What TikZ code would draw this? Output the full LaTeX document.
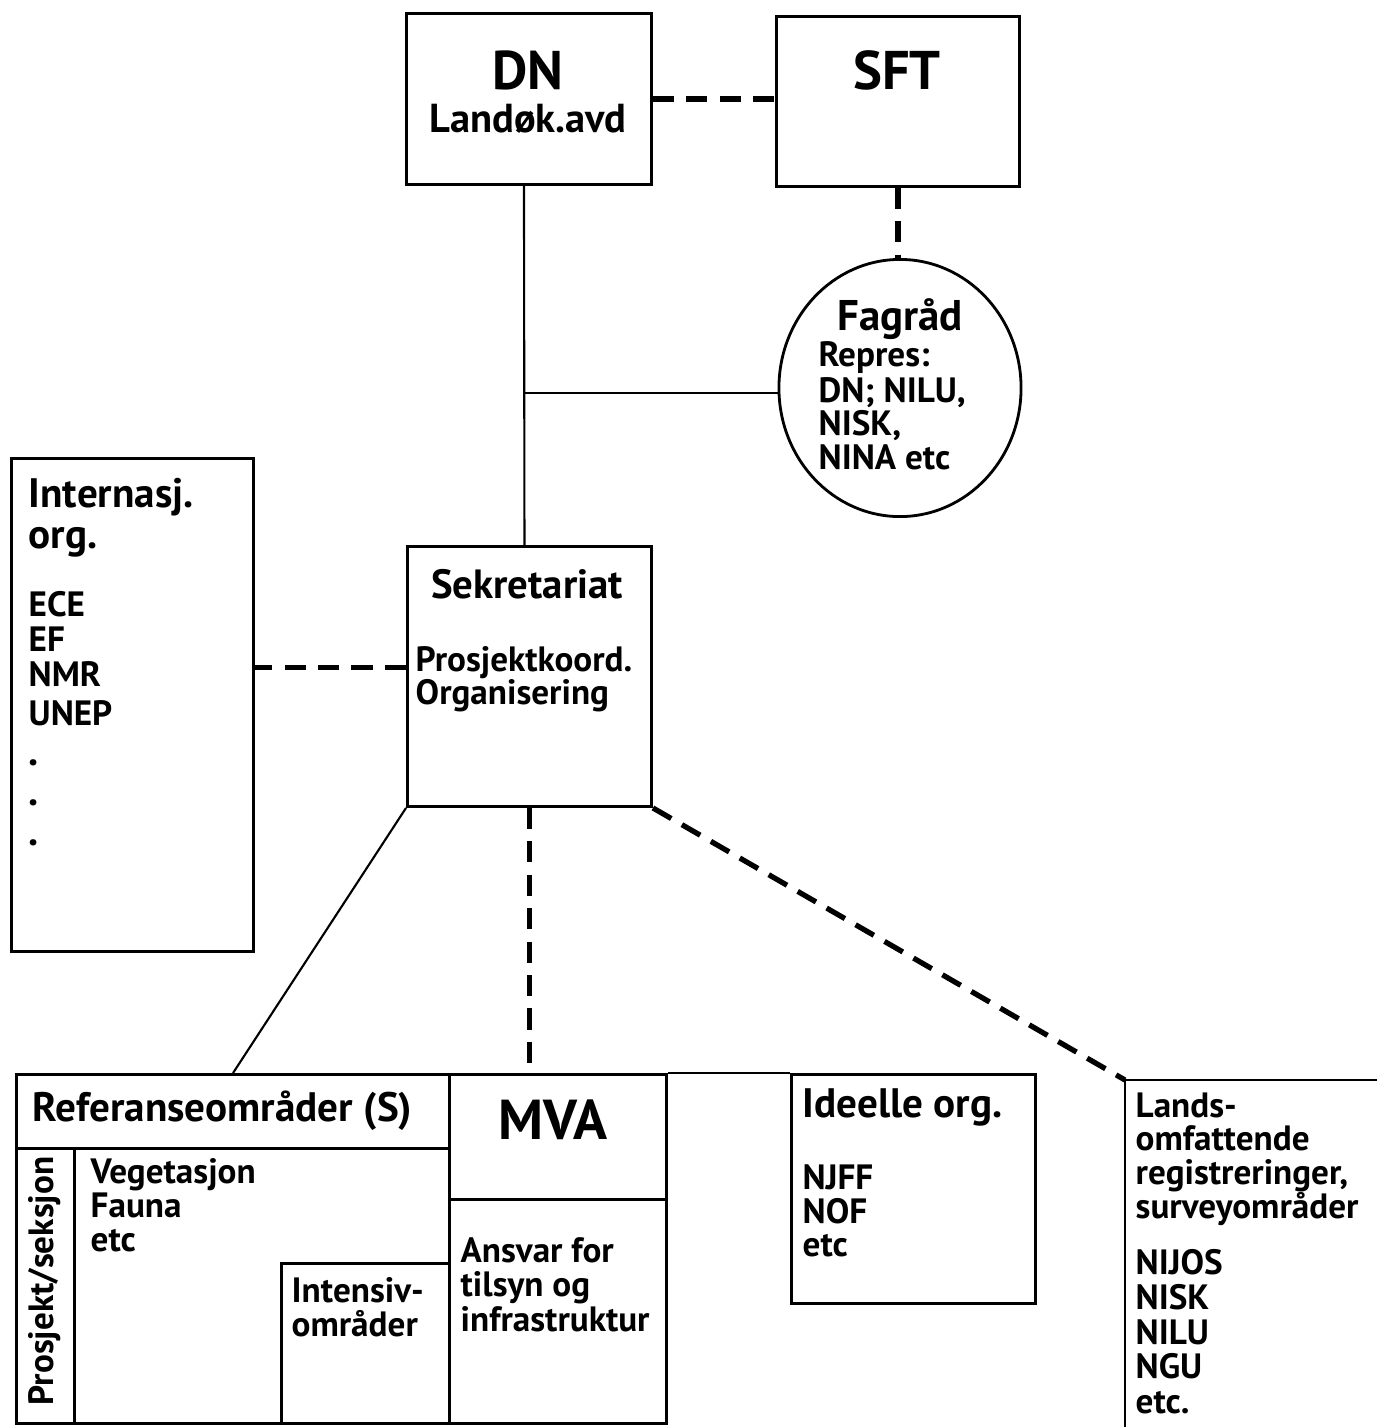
\documentclass[tikz,border=0pt]{standalone}
\usepackage{fontspec}
\setmainfont{PT Sans}
\usetikzlibrary{shapes.geometric}

\tikzset{
  boks/.style={draw, line width=0.8pt, inner sep=0pt, anchor=north west},
  brod/.style={anchor=base west, inner sep=0pt, font=\bfseries\fontsize{10}{11}\selectfont},
  tittel/.style={brod, font=\bfseries\fontsize{11.7}{12}\selectfont},
  stor/.style={anchor=base, inner sep=0pt, font=\bfseries\fontsize{15.5}{16}\selectfont},
  linje/.style={line width=0.6pt},
  stiplet/.style={line width=1.5pt, dash pattern=on 6pt off 3.5pt},
}

\begin{document}
\begin{tikzpicture}[x=0.01cm, y=-0.01cm]
  \useasboundingbox (0,0) rectangle (1377,1427);

  % ledelse
  \node[boks, minimum width=2.45cm, minimum height=1.71cm] (DN) at (405,12) {};
  \node[boks, minimum width=2.43cm, minimum height=1.70cm] (SFT) at (775,15) {};
  \node[draw, line width=0.8pt, ellipse, inner sep=0pt, minimum width=2.42cm, minimum height=2.57cm] (Fagrad) at (900,388) {};
  \node[stor] (DNtekst) at (528,90) {DN};
  \node[stor, font=\bfseries\fontsize{11.5}{12}\selectfont] (Landok) at (528,132) {Landøk.avd};
  \node[stor] (SFTtekst) at (897,90) {SFT};
  \node[stor, font=\bfseries\fontsize{12.2}{13}\selectfont] (Fagtittel) at (900,330) {Fagråd};
  \foreach \t/\y [count=\i] in {Repres:/366, {DN; NILU,}/402, {NISK,}/435, NINA etc/469}
    \node[brod] (fag\i) at (818,\y) {\t};

  % sekretariat og internasjonale
  \node[boks, minimum width=2.44cm, minimum height=2.60cm] (Sek) at (406,545) {};
  \node[stor, font=\bfseries\fontsize{11.6}{12}\selectfont] (Sektittel) at (527,598) {Sekretariat};
  \node[brod] (sek1) at (415,671) {Prosjektkoord.};
  \node[brod] (sek2) at (415,704) {Organisering};

  \node[boks, minimum width=2.42cm, minimum height=4.93cm] (Int) at (10,457) {};
  \node[tittel] (int1) at (28,507) {Internasj.};
  \node[tittel] (int2) at (28,548) {org.};
  \foreach \t/\y [count=\i] in {ECE/616, EF/651, NMR/686, UNEP/725}
    \node[brod] (org\i) at (28,\y) {\t};
  \foreach \y [count=\i] in {765,805,845}
    \node[tittel] (prikk\i) at (28,\y) {.};

  % referanseomraader og MVA
  \node[boks, minimum width=4.33cm, minimum height=0.74cm] (Ref) at (15,1073) {};
  \node[boks, minimum width=0.58cm, minimum height=2.75cm] (Prosj) at (15,1147) {};
  \node[boks, minimum width=3.75cm, minimum height=2.75cm] (Veg) at (73,1147) {};
  \node[boks, minimum width=1.68cm, minimum height=1.60cm] (Intens) at (280,1262) {};
  \node[boks, minimum width=2.17cm, minimum height=1.25cm] (MVA) at (448,1073) {};
  \node[boks, minimum width=2.17cm, minimum height=2.24cm] (Ansvar) at (448,1198) {};
  \node[tittel] (Reftekst) at (32,1121) {Referanseområder (S)};
  \node[stor, font=\bfseries\fontsize{16}{17}\selectfont] (MVAtekst) at (553,1139) {MVA};
  \node[brod, anchor=center, rotate=90] (Prosjtekst) at (45,1281) {Prosjekt/seksjon};
  \foreach \t/\y [count=\i] in {Vegetasjon/1183, Fauna/1217, etc/1251}
    \node[brod] (veg\i) at (90,\y) {\t};
  \node[brod] (intens1) at (291,1302) {Intensiv-};
  \node[brod] (intens2) at (291,1336) {områder};
  \foreach \t/\y [count=\i] in {Ansvar for/1262, tilsyn og/1296, infrastruktur/1331}
    \node[brod] (ansv\i) at (460,\y) {\t};

  % ideelle og landsomfattende
  \node[boks, minimum width=2.44cm, minimum height=2.29cm] (Ideell) at (790,1073) {};
  \node[tittel] (Idtekst) at (802,1117) {Ideelle org.};
  \foreach \t/\y [count=\i] in {NJFF/1189, NOF/1223, etc/1256}
    \node[brod] (id\i) at (802,\y) {\t};

  \coordinate (Lands) at (1125,1080);
  \draw[line width=0.8pt] (1377,1080) -- (Lands) -- (1125,1427);
  \foreach \t/\y [count=\i] in {Lands-/1117, omfattende/1150, {registreringer,}/1184, surveyområder/1218, NIJOS/1274, NISK/1309, NILU/1344, NGU/1378, etc./1413}
    \node[brod] (land\i) at (1135,\y) {\t};

  % forbindelser
  \draw[stiplet] (DN.east) -- (DN.east -| SFT.west);
  \draw[stiplet] (SFT.south) -- (SFT.south |- Fagrad.north);
  \draw[linje] ([xshift=-0.05cm]DN.south) -- ([xshift=-0.05cm]Sek.north);
  \coordinate (kryss) at ([xshift=-0.05cm, yshift=-0.05cm]DN.south |- Fagrad.west);
  \draw[linje] (kryss) -- (kryss -| Fagrad.west);
  \draw[stiplet] ([yshift=0.09cm]Sek.west) -- ([yshift=0.09cm]Sek.west -| Int.east);
  \draw[linje] (Sek.south west) -- (Ref.north);
  \draw[stiplet] (Sek.south) -- (Sek.south |- MVA.north);
  \draw[stiplet] (Sek.south east) -- (Lands);
  \draw[linje] (MVA.north east) -- (Ideell.north west);
\end{tikzpicture}
\end{document}
